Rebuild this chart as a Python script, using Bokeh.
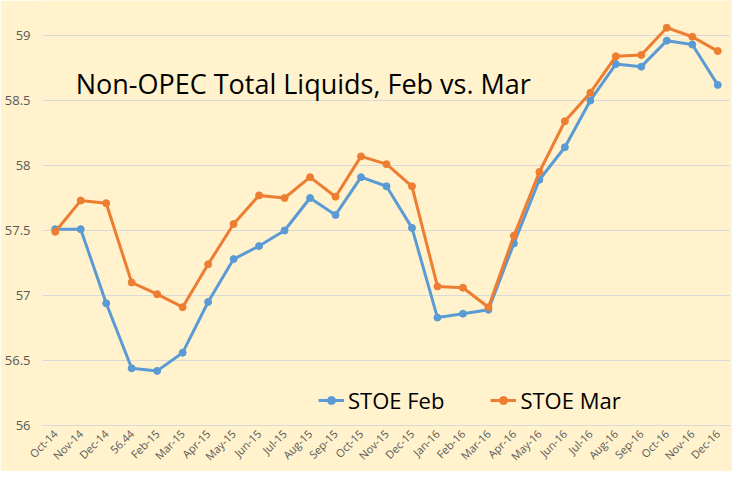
from bokeh.plotting import figure
from bokeh.models import Range1d, FactorRange, Legend, LegendItem, Label, FixedTicker
from bokeh.embed import file_html
from bokeh.resources import INLINE
import math

months = ["Oct-14", "Nov-14", "Dec-14", "56.44", "Feb-15", "Mar-15", "Apr-15", "May-15",
          "Jun-15", "Jul-15", "Aug-15", "Sep-15", "Oct-15", "Nov-15", "Dec-15", "Jan-16",
          "Feb-16", "Mar-16", "Apr-16", "May-16", "Jun-16", "Jul-16", "Aug-16", "Sep-16",
          "Oct-16", "Nov-16", "Dec-16"]

stoe_feb = [57.51, 57.51, 56.94, 56.44, 56.42, 56.56, 56.95, 57.28, 57.38, 57.50, 57.75,
            57.62, 57.91, 57.84, 57.52, 56.83, 56.86, 56.89, 57.40, 57.89, 58.14, 58.50,
            58.78, 58.76, 58.96, 58.93, 58.62]

stoe_mar = [57.49, 57.73, 57.71, 57.10, 57.01, 56.91, 57.24, 57.55, 57.77, 57.75, 57.91,
            57.76, 58.07, 58.01, 57.84, 57.07, 57.06, 56.91, 57.46, 57.95, 58.34, 58.56,
            58.84, 58.85, 59.06, 58.99, 58.88]

y_ticks = [56, 56.5, 57, 57.5, 58, 58.5, 59]

title_text = "Non-OPEC Total Liquids, Feb vs. Mar"
BG = "#FFF2CC"
BLUE = "#5B9BD5"
ORANGE = "#ED7D31"
GRID = "#D9D9D9"
TXT = "#595959"
FONT = "Open Sans"

p = figure(width=732, height=471, x_range=FactorRange(*months, range_padding=0),
           y_range=Range1d(56, 59.269), output_backend="svg", toolbar_location=None,
           min_border_left=42, min_border_right=2, min_border_top=0, min_border_bottom=45)
p.background_fill_color = BG
p.border_fill_color = BG
p.outline_line_color = None

l1 = p.line(months, stoe_feb, line_color=BLUE, line_width=3)
c1 = p.scatter(months, stoe_feb, size=7, fill_color=BLUE, line_color=BLUE)
l2 = p.line(months, stoe_mar, line_color=ORANGE, line_width=3)
c2 = p.scatter(months, stoe_mar, size=7, fill_color=ORANGE, line_color=ORANGE)

p.yaxis.ticker = FixedTicker(ticks=y_ticks)
p.yaxis.axis_line_color = None
p.yaxis.major_tick_line_color = None
p.yaxis.major_tick_out = 0
p.yaxis.major_tick_in = 0
p.yaxis.minor_tick_line_color = None
p.yaxis.minor_tick_out = 0
p.yaxis.major_label_text_font = FONT
p.yaxis.major_label_text_font_size = "13px"
p.yaxis.major_label_text_color = TXT
p.yaxis.major_label_standoff = 12

p.xaxis.axis_line_color = GRID
p.xaxis.major_tick_line_color = None
p.xaxis.major_tick_out = 0
p.xaxis.major_tick_in = 0
p.xaxis.minor_tick_line_color = None
p.xaxis.major_label_orientation = math.pi / 4
p.xaxis.major_label_text_font = FONT
p.xaxis.major_label_text_font_size = "11px"
p.xaxis.major_label_text_color = TXT
p.xaxis.major_label_standoff = 6

p.xgrid.grid_line_color = None
p.ygrid.grid_line_color = GRID
p.ygrid.grid_line_width = 1

title = Label(x=1.3, y=58.63, text=title_text, text_font=FONT, text_font_size="27px",
              text_color="black", text_baseline="alphabetic")
p.add_layout(title)

legend = Legend(items=[LegendItem(label="STOE Feb", renderers=[l1, c1]),
                       LegendItem(label="STOE Mar", renderers=[l2, c2])],
                orientation="horizontal", location=(276, 10),
                background_fill_alpha=0, border_line_color=None,
                label_text_font=FONT, label_text_font_size="22px", label_text_color="black",
                glyph_width=26, label_standoff=4, spacing=46, padding=4)
p.add_layout(legend)

open("out.html", "w").write(file_html(p, INLINE))
